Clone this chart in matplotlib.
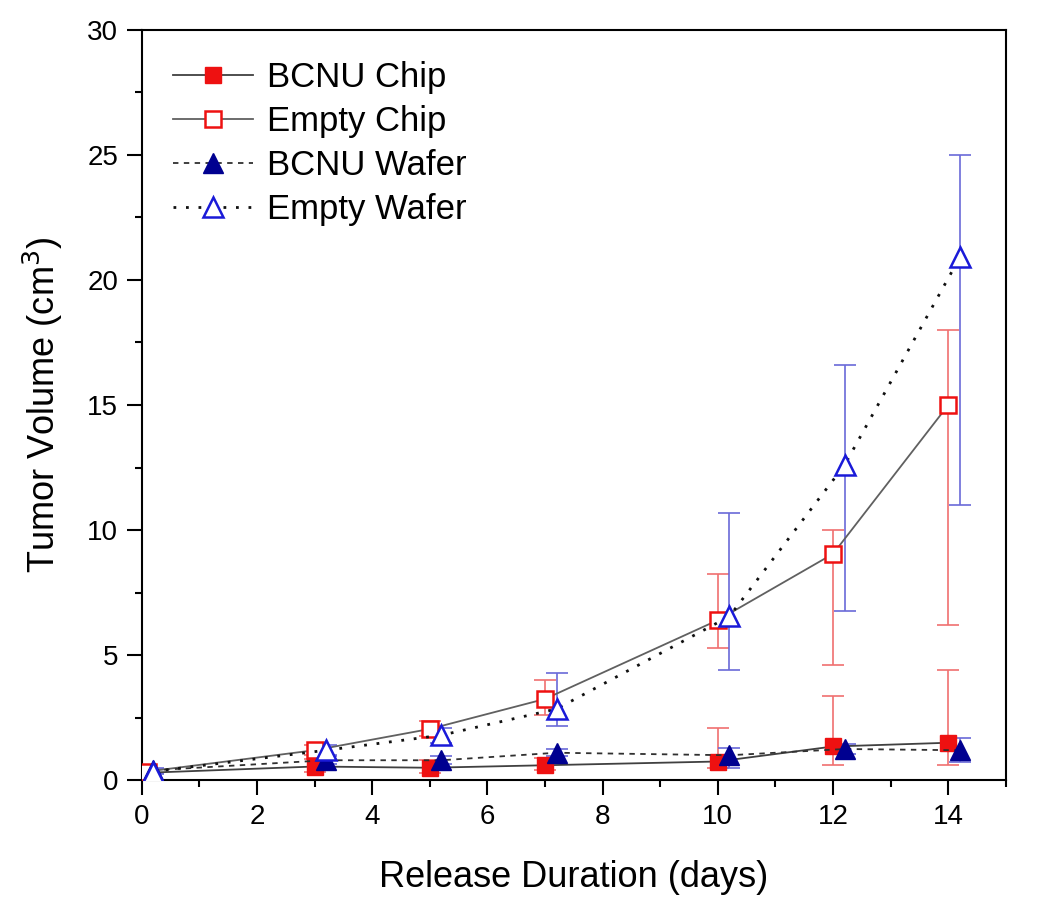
import numpy as np
import matplotlib
matplotlib.use("Agg")
import matplotlib.pyplot as plt

plt.rcParams['font.family'] = ['Liberation Sans', 'DejaVu Sans']

# data
days_chip = [0.1, 3, 5, 7, 10, 12, 14]
days_wafer = [0.2, 3.2, 5.2, 7.2, 10.2, 12.2, 14.2]

bcnu_chip = [0.3, 0.55, 0.5, 0.6, 0.75, 1.35, 1.5]
bcnu_chip_lo = [0.1, 0.2, 0.2, 0.2, 0.25, 0.75, 0.88]
bcnu_chip_hi = [0.1, 0.3, 0.3, 0.3, 1.33, 2.0, 2.9]

empty_chip = [0.35, 1.2, 2.05, 3.25, 6.4, 9.05, 15.0]
empty_chip_lo = [0.1, 0.2, 0.3, 0.65, 1.1, 4.45, 8.8]
empty_chip_hi = [0.1, 0.2, 0.3, 0.75, 1.85, 0.95, 3.0]

bcnu_wafer = [0.4, 0.8, 0.8, 1.1, 1.0, 1.25, 1.2]
bcnu_wafer_lo = [0.1, 0.15, 0.15, 0.15, 0.5, 0.2, 0.45]
bcnu_wafer_hi = [0.1, 0.15, 0.15, 0.15, 0.3, 0.2, 0.5]

empty_wafer = [0.35, 1.2, 1.8, 2.85, 6.55, 12.6, 20.9]
empty_wafer_lo = [0.1, 0.2, 0.3, 0.7, 2.15, 5.85, 9.9]
empty_wafer_hi = [0.1, 0.2, 0.3, 1.45, 4.15, 4.0, 4.1]

red = '#ee1111'
lred = '#f07070'
navy = '#000090'
blue = '#1a1ad8'
lblue = '#6a6ad8'

fig = plt.figure(figsize=(10.5, 9.01), dpi=100)
ax = fig.add_axes([0.135, 0.134, 0.823, 0.833])

# error bars first
ax.errorbar(days_chip, bcnu_chip, yerr=[bcnu_chip_lo, bcnu_chip_hi], fmt='none',
            ecolor=lred, elinewidth=1.2, capsize=8, capthick=1.2, zorder=2)
ax.errorbar(days_chip, empty_chip, yerr=[empty_chip_lo, empty_chip_hi], fmt='none',
            ecolor=lred, elinewidth=1.2, capsize=8, capthick=1.2, zorder=2)
ax.errorbar(days_wafer, bcnu_wafer, yerr=[bcnu_wafer_lo, bcnu_wafer_hi], fmt='none',
            ecolor=lblue, elinewidth=1.2, capsize=8, capthick=1.2, zorder=2)
ax.errorbar(days_wafer, empty_wafer, yerr=[empty_wafer_lo, empty_wafer_hi], fmt='none',
            ecolor=lblue, elinewidth=1.2, capsize=8, capthick=1.2, zorder=2)

ax.plot(days_chip, bcnu_chip, '-', color='#404040', lw=1.3, marker='s', ms=12,
        mfc=red, mec=red, label='BCNU Chip', zorder=4)
ax.plot(days_chip, empty_chip, '-', color='#606060', lw=1.3, marker='s', ms=12,
        mfc='white', mec=red, mew=1.8, label='Empty Chip', zorder=4)
ax.plot(days_wafer, bcnu_wafer, '--', color='#303030', lw=1.3, dashes=(3, 3),
        marker='^', ms=14, mfc=navy, mec=navy, label='BCNU Wafer', zorder=4)
ax.plot(days_wafer, empty_wafer, ':', color='#101010', lw=2.0, dashes=(1, 3.5),
        marker='^', ms=14, mfc='white', mec=blue, mew=1.8, label='Empty Wafer', zorder=4)

ax.set_xlim(0, 15)
ax.set_ylim(0, 30)
ax.set_xticks(np.arange(0, 15, 2))
ax.set_xticks(np.arange(1, 16, 2), minor=True)
ax.set_yticks(np.arange(0, 31, 5))
ax.set_yticks(np.arange(2.5, 30, 5), minor=True)
ax.tick_params(which='major', direction='out', length=11, width=1.5, labelsize=20, pad=6)
ax.tick_params(which='minor', direction='out', length=5, width=1.5)
for s in ax.spines.values():
    s.set_linewidth(1.5)

ax.set_xlabel('Release Duration (days)', fontsize=26, labelpad=22)
ax.set_ylabel('Tumor Volume (cm$^3$)', fontsize=26, labelpad=16)

ax.legend(loc='upper left', frameon=False, fontsize=25, handlelength=2.3,
          borderaxespad=0.4, borderpad=0.5, labelspacing=0.32, handletextpad=0.4)

fig.savefig('out.png', dpi=100)
